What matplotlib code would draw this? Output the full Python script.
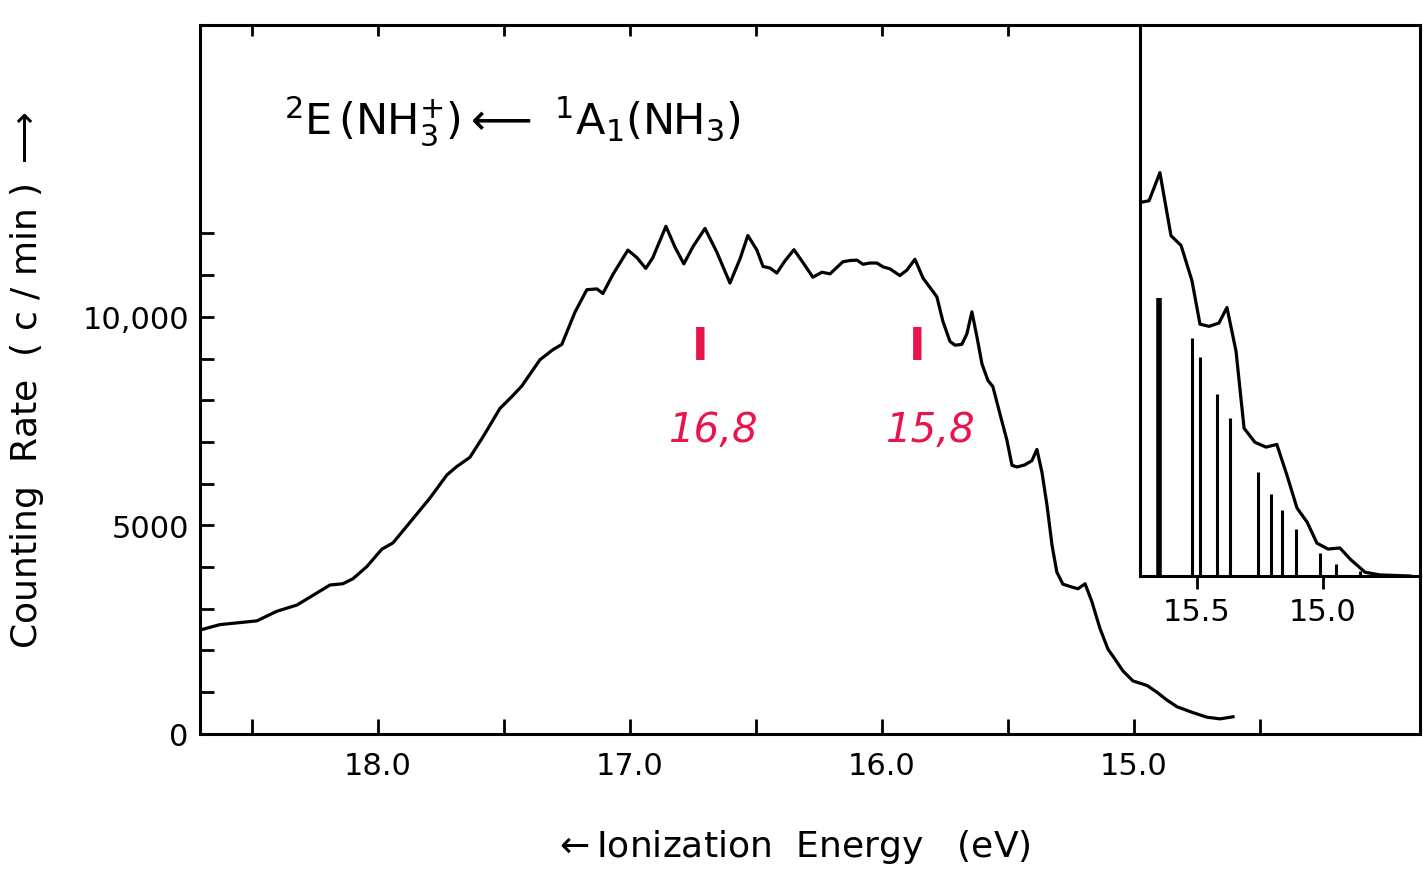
import matplotlib.pyplot as plt

# main photoelectron band (eV, counts/min)
energy = [18.706, 18.627, 18.480, 18.401, 18.321, 18.258, 18.190, 18.139, 18.099, 18.044,
          17.984, 17.940, 17.873, 17.794, 17.726, 17.687, 17.635, 17.583, 17.516, 17.468,
          17.429, 17.357, 17.306, 17.270, 17.218, 17.171, 17.131, 17.107, 17.067, 17.008,
          16.972, 16.937, 16.909, 16.857, 16.821, 16.786, 16.750, 16.702, 16.655, 16.603,
          16.563, 16.532, 16.496, 16.472, 16.444, 16.417, 16.385, 16.349, 16.313, 16.274,
          16.238, 16.206, 16.155, 16.127, 16.099, 16.075, 16.048, 16.020, 15.996, 15.968,
          15.929, 15.901, 15.869, 15.837, 15.782, 15.758, 15.730, 15.710, 15.683, 15.663,
          15.643, 15.623, 15.603, 15.579, 15.560, 15.532, 15.504, 15.484, 15.464, 15.433,
          15.405, 15.385, 15.365, 15.345, 15.325, 15.306, 15.282, 15.246, 15.222, 15.194,
          15.167, 15.135, 15.103, 15.075, 15.044, 15.004, 14.948, 14.909, 14.869, 14.829,
          14.766, 14.710, 14.659, 14.607]
counts = [2490, 2620, 2710, 2940, 3090, 3320, 3570, 3600, 3720, 4010,
          4430, 4580, 5070, 5650, 6210, 6410, 6630, 7120, 7800, 8090,
          8340, 8970, 9210, 9340, 10110, 10650, 10670, 10560, 11020, 11600,
          11420, 11160, 11420, 12170, 11670, 11270, 11680, 12120, 11550, 10810,
          11390, 11950, 11600, 11210, 11170, 11050, 11340, 11610, 11300, 10950,
          11070, 11030, 11320, 11350, 11360, 11260, 11290, 11290, 11200, 11150,
          10990, 11120, 11380, 10930, 10480, 9890, 9410, 9320, 9340, 9590,
          10120, 9520, 8870, 8470, 8330, 7680, 7040, 6440, 6400, 6450,
          6550, 6820, 6270, 5480, 4520, 3880, 3590, 3520, 3480, 3600,
          3170, 2530, 2030, 1790, 1510, 1270, 1160, 1000, 810, 650,
          510, 400, 360, 410]

# inset: onset region, arbitrary units
inset_energy = [15.722, 15.690, 15.647, 15.603, 15.563, 15.520, 15.488, 15.452, 15.413, 15.381,
                15.345, 15.313, 15.270, 15.226, 15.183, 15.143, 15.103, 15.063, 15.024, 14.980,
                14.933, 14.889, 14.833, 14.774, 14.655]
inset_counts = [69.3, 69.6, 74.8, 63.1, 61.3, 54.8, 46.7, 46.3, 46.9, 49.8,
                41.7, 27.4, 24.8, 23.9, 24.4, 18.7, 12.6, 10.0, 6.1, 5.0,
                5.2, 3.0, 0.7, 0.2, 0.0]
stick_energy = [15.651, 15.520, 15.488, 15.421, 15.369, 15.258, 15.206, 15.163, 15.107, 15.012, 14.948, 14.853]
stick_height = [51.5, 44.1, 40.7, 33.7, 29.3, 19.3, 15.2, 12.2, 8.7, 4.3, 2.2, 1.0]

marks = [16.72, 15.86]
mark_labels = ["16,8", "15,8"]
red = "#e8154c"

fig = plt.figure(figsize=(14.23, 8.78), dpi=100)
ax = fig.add_axes([0.1405, 0.163, 0.8574, 0.8075])
ax.plot(energy, counts, color="black", lw=2.3, solid_joinstyle="round")
ax.set_xlim(18.706, 13.865)
ax.set_ylim(0, 17000)
for s in ax.spines.values():
    s.set_linewidth(2.2)

ax.set_xticks([18.0, 17.0, 16.0, 15.0])
ax.set_xticklabels(["18.0", "17.0", "16.0", "15.0"])
ax.set_xticks([18.5, 17.5, 16.5, 15.5, 14.5], minor=True)
ax.set_yticks([0, 5000, 10000])
ax.set_yticklabels(["0", "5000", "10,000"])
ax.set_yticks([1000, 2000, 3000, 4000, 6000, 7000, 8000, 9000, 11000, 12000], minor=True)
ax.tick_params(axis="both", which="both", direction="in", width=2, labelsize=22)
ax.tick_params(axis="x", which="both", length=11, pad=12)
ax.tick_params(axis="y", which="both", length=10, pad=8)

# small ticks on the top edge
top = ax.secondary_xaxis("top")
top.set_xticks([18.5, 18.0, 17.5, 17.0, 16.5, 16.0, 15.5])
top.tick_params(direction="in", length=8, width=2, labeltop=False)

ax.set_ylabel(r"Counting  Rate  ( c / min ) $\longrightarrow$", fontsize=26)
ax.yaxis.set_label_coords(-0.126, 0.50)
ax.set_xlabel(r"$\leftarrow$Ionization  Energy   (eV)", fontsize=26)
ax.xaxis.set_label_coords(0.485, -0.132)

ax.text(0.256, 0.865,
        r"$^{2}\mathrm{E\,(NH}_{3}^{+}\mathrm{)}\longleftarrow\ {}^{1}\mathrm{A}_{1}\mathrm{(NH}_{3}\mathrm{)}$",
        transform=ax.transAxes, fontsize=31, ha="center", va="center")

for e, lab in zip(marks, mark_labels):
    ax.text(e, 9300, "I", color=red, fontsize=32, fontweight="bold", ha="center", va="center")
    ax.text(e - 0.05, 7300, lab, color=red, fontsize=29, style="italic", ha="center", va="center")

# inset
ins = fig.add_axes([1140 / 1423, 1 - 577 / 878, 280 / 1423, 550 / 878])
ins.patch.set_alpha(0)
ins.plot(inset_energy, inset_counts, color="black", lw=2.3, solid_joinstyle="round")
widths = [4] + [2.2] * (len(stick_energy) - 1)
ins.vlines(stick_energy, 0, stick_height, colors="black", linewidths=widths)
ins.set_xlim(15.726, 14.615)
ins.set_ylim(0, 102)
ins.spines["top"].set_visible(False)
ins.spines["right"].set_visible(False)
ins.spines["left"].set_linewidth(2.2)
ins.spines["bottom"].set_linewidth(2.2)
ins.set_xticks([15.5, 15.0])
ins.set_xticklabels(["15.5", "15.0"])
ins.set_yticks([])
ins.tick_params(axis="x", direction="out", length=9, width=2, labelsize=22, pad=6)

fig.savefig("out.png", dpi=100)
